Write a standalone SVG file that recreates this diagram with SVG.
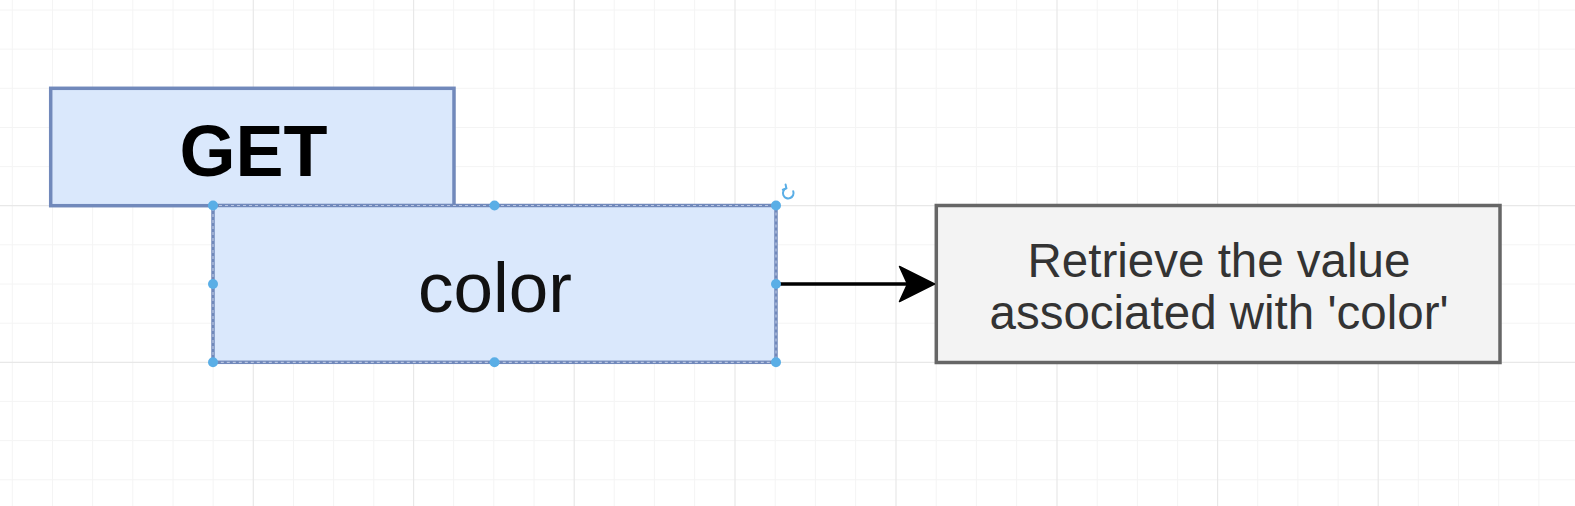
<svg xmlns="http://www.w3.org/2000/svg" width="1575" height="506" viewBox="0 0 1575 506">
  <defs>
    <style>
      .minor { stroke: #f4f4f4; stroke-width: 1; fill: none; }
      .major { stroke: #e8e8e8; stroke-width: 1.2; fill: none; }
      .blue { fill: #dae8fc; stroke: #7189bb; stroke-width: 3.5; }
      .grey { fill: #f3f3f3; stroke: #666666; stroke-width: 3.5; }
      .sel { fill: none; stroke: #b9c6e2; stroke-width: 1.2; stroke-dasharray: 3 3; }
      .handle { fill: #5aaee6; stroke: none; }
      .lbl { font-family: "Liberation Sans", Arial, Helvetica, sans-serif; text-anchor: middle; }
      .edge { stroke: #000000; stroke-width: 3.4; fill: none; }
    </style>
  </defs>
  <rect x="0" y="0" width="1575" height="506" fill="#ffffff"/>
  <g id="grid">
    <path class="minor" d="M12.3,0V506 M52.5,0V506 M92.6,0V506 M132.8,0V506 M173,0V506 M213.1,0V506 M293.5,0V506 M333.6,0V506 M373.8,0V506 M453.6,0V506 M493.8,0V506 M534,0V506 M614.2,0V506 M654.4,0V506 M694.6,0V506 M775.2,0V506 M815.4,0V506 M855.6,0V506 M936.2,0V506 M976.4,0V506 M1016.6,0V506 M1097.2,0V506 M1137.4,0V506 M1177.6,0V506 M1257.7,0V506 M1297.9,0V506 M1338.1,0V506 M1418.3,0V506 M1458.5,0V506 M1498.7,0V506 M1538.9,0V506 M0,10H1575 M0,49.1H1575 M0,88.3H1575 M0,127.5H1575 M0,166.6H1575 M0,244.8H1575 M0,284H1575 M0,323.2H1575 M0,401.4H1575 M0,440.6H1575 M0,479.8H1575"/>
    <path class="major" d="M253.3,0V506 M413.6,0V506 M574.2,0V506 M735,0V506 M896,0V506 M1057,0V506 M1217.6,0V506 M1378.2,0V506 M0,205.7H1575 M0,362.3H1575"/>
  </g>
  <g id="node-get">
    <rect class="blue" x="50.7" y="88.3" width="403.3" height="117.4"/>
    <text class="lbl" x="253.5" y="175.5" font-size="72" font-weight="bold" fill="#000000">GET</text>
  </g>
  <g id="node-color">
    <rect class="blue" x="213" y="205.5" width="563" height="156.8" stroke="#7a8cba"/>
    <rect class="sel" x="213" y="205.5" width="563" height="156.8"/>
    <text class="lbl" x="495" y="311.7" font-size="71" fill="#111111">color</text>
  </g>
  <g id="node-result">
    <rect class="grey" x="936.3" y="205.5" width="563.7" height="157"/>
    <text class="lbl" x="1219" y="276.6" font-size="47.5" fill="#333333">Retrieve the value</text>
    <text class="lbl" x="1219" y="329" font-size="47.5" fill="#333333">associated with 'color'</text>
  </g>
  <g id="connectors">
    <path class="edge" d="M778,284 L910,284"/>
    <path d="M934.5,284 L899.5,266.5 L907.5,284 L899.5,301.5 Z" fill="#000000" stroke="#000000" stroke-width="1.5" stroke-linejoin="round"/>
  </g>
  <g id="selection">
    <circle class="handle" cx="213" cy="205.5" r="5"/>
    <circle class="handle" cx="494.5" cy="205.5" r="5"/>
    <circle class="handle" cx="776" cy="205.5" r="5"/>
    <circle class="handle" cx="213" cy="284" r="5"/>
    <circle class="handle" cx="776" cy="284" r="5"/>
    <circle class="handle" cx="213" cy="362.3" r="5"/>
    <circle class="handle" cx="494.5" cy="362.3" r="5"/>
    <circle class="handle" cx="776" cy="362.3" r="5"/>
    <g id="rotate-handle" fill="none" stroke="#5aaee6" stroke-width="2" stroke-linecap="round">
      <path d="M793.2,191.2 A5.3,5.3 0 1 1 786.2,188.2"/>
      <path d="M785.6,184.6 L786.4,188.4 L782.8,189.6" stroke-linejoin="round"/>
    </g>
  </g>
</svg>
